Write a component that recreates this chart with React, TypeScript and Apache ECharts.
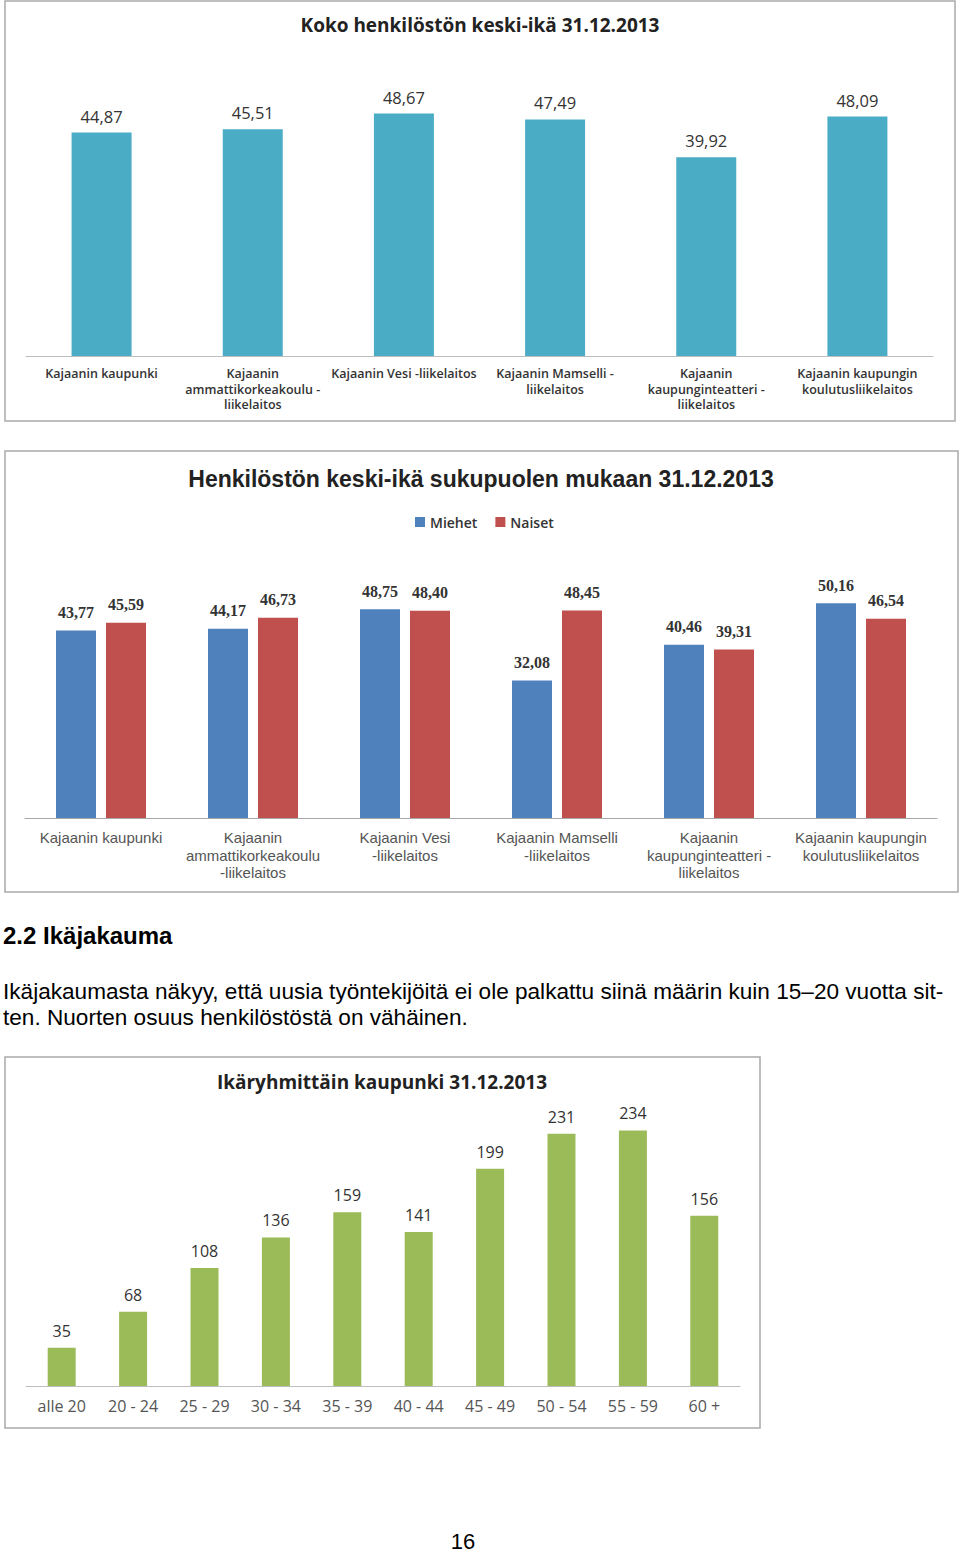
import React, { useEffect, useRef } from "react";
import * as echarts from "echarts";

const unitsA = [
  "Kajaanin kaupunki",
  "Kajaanin\nammattikorkeakoulu -\nliikelaitos",
  "Kajaanin Vesi -liikelaitos",
  "Kajaanin Mamselli -\nliikelaitos",
  "Kajaanin\nkaupunginteatteri -\nliikelaitos",
  "Kajaanin kaupungin\nkoulutusliikelaitos",
];
const avgAge = [44.87, 45.51, 48.67, 47.49, 39.92, 48.09];

const unitsB = [
  "Kajaanin kaupunki",
  "Kajaanin\nammattikorkeakoulu\n-liikelaitos",
  "Kajaanin Vesi\n-liikelaitos",
  "Kajaanin Mamselli\n-liikelaitos",
  "Kajaanin\nkaupunginteatteri -\nliikelaitos",
  "Kajaanin kaupungin\nkoulutusliikelaitos",
];
const men = [43.77, 44.17, 48.75, 32.08, 40.46, 50.16];
const women = [45.59, 46.73, 48.4, 48.45, 39.31, 46.54];

const ageGroups = ["alle 20", "20 - 24", "25 - 29", "30 - 34", "35 - 39", "40 - 44", "45 - 49", "50 - 54", "55 - 59", "60 +"];
const counts = [35, 68, 108, 136, 159, 141, 199, 231, 234, 156];

const heading = "2.2 Ikäjakauma";
const para1 = "Ikäjakaumasta näkyy, että uusia työntekijöitä ei ole palkattu siinä määrin kuin 15–20 vuotta sit-";
const para2 = "ten. Nuorten osuus henkilöstöstä on vähäinen.";

const fi = (v: number) => v.toFixed(2).replace(".", ",");

export default function App() {
  const ref = useRef<HTMLDivElement>(null);
  useEffect(() => {
    if (!ref.current) return;
    const chart = echarts.init(ref.current, undefined, { renderer: "svg" });
    const open = "'Open Sans', Lato, sans-serif";
    const arial = "'Liberation Sans', Arial, sans-serif";
    const serif = "'Liberation Serif', 'DejaVu Serif', serif";
    const box = (x: number, y: number, w: number, h: number) => ({
      type: "rect",
      shape: { x, y, width: w, height: h },
      style: { fill: "none", stroke: "#a9a9a9", lineWidth: 1.5 },
      silent: true,
    });
    const axisLine = (c: string) => ({ show: true, lineStyle: { color: c, width: 1 } });
    chart.setOption({
      animation: false,
      backgroundColor: "#fff",
      grid: [
        { left: 26, width: 907, top: 107, height: 249 },
        { left: 25, width: 912, top: 561, height: 257 },
        { left: 26, width: 714, top: 1113, height: 273 },
      ],
      legend: {
        data: ["Miehet", "Naiset"],
        left: 415,
        top: 515,
        padding: 0,
        icon: "rect",
        itemWidth: 10,
        itemHeight: 10,
        itemGap: 18,
        textStyle: { fontFamily: open, fontSize: 14, fontWeight: 600, color: "#333" },
      },
      xAxis: [
        {
          gridIndex: 0,
          type: "category",
          data: unitsA,
          axisLine: axisLine("#bdbdbd"),
          axisTick: { show: false },
          axisLabel: { interval: 0, margin: 10, fontFamily: open, fontSize: 12.5, fontWeight: 600, color: "#333", lineHeight: 15.5 },
        },
        {
          gridIndex: 1,
          type: "category",
          data: unitsB,
          axisLine: axisLine("#a8a8a8"),
          axisTick: { show: false },
          axisLabel: { interval: 0, margin: 11, fontFamily: arial, fontSize: 15, color: "#555", lineHeight: 17.5 },
        },
        {
          gridIndex: 2,
          type: "category",
          data: ageGroups,
          axisLine: axisLine("#bdbdbd"),
          axisTick: { show: false },
          axisLabel: { interval: 0, margin: 12, fontFamily: open, fontSize: 16, color: "#555" },
        },
      ],
      yAxis: [
        { gridIndex: 0, type: "value", min: 0, max: 50, show: false, splitLine: { show: false } },
        { gridIndex: 1, type: "value", min: 0, max: 60, show: false, splitLine: { show: false } },
        { gridIndex: 2, type: "value", min: 0, max: 250, show: false, splitLine: { show: false } },
      ],
      series: [
        {
          type: "bar",
          xAxisIndex: 0,
          yAxisIndex: 0,
          data: avgAge,
          barWidth: 60,
          itemStyle: { color: "#4BACC6" },
          label: { show: true, position: "top", distance: 8, formatter: (p: any) => fi(p.value), fontFamily: open, fontSize: 16.5, color: "#333" },
        },
        {
          name: "Miehet",
          type: "bar",
          xAxisIndex: 1,
          yAxisIndex: 1,
          data: men,
          barWidth: 40,
          barGap: "25%",
          itemStyle: { color: "#4F81BD" },
          label: { show: true, position: "top", distance: 10, formatter: (p: any) => fi(p.value), fontFamily: serif, fontSize: 16, fontWeight: "bold", color: "#333" },
        },
        {
          name: "Naiset",
          type: "bar",
          xAxisIndex: 1,
          yAxisIndex: 1,
          data: women,
          barWidth: 40,
          barGap: "25%",
          itemStyle: { color: "#C0504D" },
          label: { show: true, position: "top", distance: 10, formatter: (p: any) => fi(p.value), fontFamily: serif, fontSize: 16, fontWeight: "bold", color: "#333" },
        },
        {
          type: "bar",
          xAxisIndex: 2,
          yAxisIndex: 2,
          data: counts,
          barWidth: 28,
          itemStyle: { color: "#9BBB59" },
          label: { show: true, position: "top", distance: 9, fontFamily: open, fontSize: 16, color: "#333" },
        },
      ],
      graphic: [
        box(5, 1, 950, 420),
        box(5, 451, 953, 441),
        box(5, 1057, 755, 371),
        {
          type: "text",
          x: 480,
          y: 25,
          style: { text: "Koko henkilöstön keski-ikä 31.12.2013", fontFamily: open, fontSize: 19, fontWeight: "bold", fill: "#222", align: "center", verticalAlign: "middle" },
        },
        {
          type: "text",
          x: 481,
          y: 479,
          style: { text: "Henkilöstön keski-ikä sukupuolen mukaan 31.12.2013", fontFamily: arial, fontSize: 23, fontWeight: "bold", fill: "#222", align: "center", verticalAlign: "middle" },
        },
        {
          type: "text",
          x: 382,
          y: 1082,
          style: { text: "Ikäryhmittäin kaupunki 31.12.2013", fontFamily: open, fontSize: 19, fontWeight: "bold", fill: "#222", align: "center", verticalAlign: "middle" },
        },
        {
          type: "text",
          x: 3,
          y: 935,
          style: { text: heading, fontFamily: arial, fontSize: 24, fontWeight: "bold", fill: "#000", align: "left", verticalAlign: "middle" },
        },
        {
          type: "text",
          x: 3,
          y: 991,
          style: { text: para1, fontFamily: arial, fontSize: 22.6, fill: "#000", align: "left", verticalAlign: "middle" },
        },
        {
          type: "text",
          x: 3,
          y: 1017,
          style: { text: para2, fontFamily: arial, fontSize: 22.6, fill: "#000", align: "left", verticalAlign: "middle" },
        },
        {
          type: "text",
          x: 463,
          y: 1541,
          style: { text: "16", fontFamily: arial, fontSize: 22, fill: "#000", align: "center", verticalAlign: "middle" },
        },
      ],
    });
    return () => chart.dispose();
  }, []);
  return <div ref={ref} style={{ position: "absolute", left: 0, top: 0, width: 960, height: 1553, background: "#fff" }} />;
}
